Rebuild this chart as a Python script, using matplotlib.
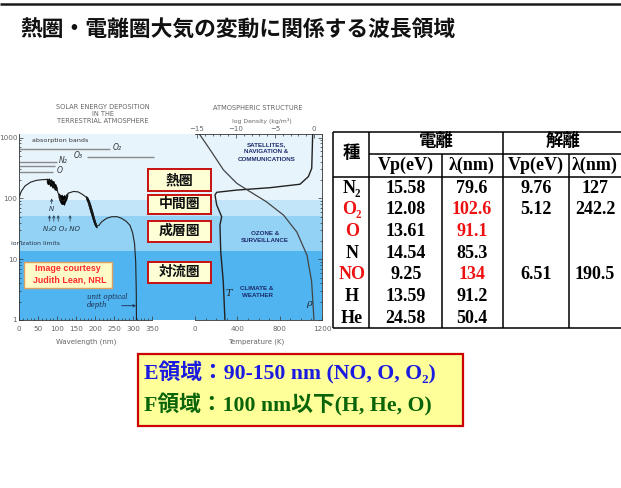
import matplotlib
matplotlib.use('Agg')
import matplotlib.pyplot as plt
from matplotlib.patches import Rectangle
from matplotlib.ticker import MultipleLocator, NullFormatter

W, H = 621, 488

# ---------------- data ----------------
title = '熱圏・電離圏大気の変動に関係する波長領域'

# solar energy deposition: altitude of unit optical depth vs wavelength
wl_nm = [0, 5, 15, 30, 45, 60, 72, 76, 82, 88, 94, 99, 103, 110, 118, 124, 129,
         143, 155, 165, 172, 178, 185, 192, 198, 204, 210, 217, 230, 244, 258,
         270, 282, 292, 299, 304, 307, 308.5, 309]
depth_alt = [105, 130, 160, 185, 198, 203, 205, 200, 185, 170, 150, 140, 120, 95,
             90, 105, 122, 130, 128, 118, 110, 102, 80, 60, 45, 35, 36, 41, 47,
             50, 50, 47, 42, 36, 27, 18, 9, 3, 1]
# dense (black) structure of the deposition curve
blob1_nm = [72, 75, 78, 81, 84, 87, 90, 93, 96, 99]
blob1_hi = [214, 205, 215, 200, 208, 190, 195, 175, 170, 150]
blob1_lo = [185, 170, 178, 160, 165, 150, 152, 140, 138, 135]
blob2_nm = [103, 106, 109, 112, 115, 118, 121, 124, 127]
blob2_hi = [122, 118, 112, 116, 108, 114, 110, 118, 122]
blob2_lo = [105, 92, 84, 80, 82, 78, 88, 95, 110]
band3_nm = [176, 180, 184, 188, 192, 196, 200, 204]
band3_hi = [110, 104, 92, 78, 64, 52, 42, 36]
band3_lo = [98, 86, 70, 58, 48, 40, 35, 33]

# absorption bands
absorb_labels = ['O₂', 'O₃', 'N₂', '', 'O']
absorb_start = [0, 179, 0, 0, 0]
absorb_end = [239, 354, 99, 95, 90]
absorb_level = [642, 485, 401, 341, 269]

# atmospheric structure
temp_K = [283, 267, 243, 236, 252, 205, 189, 205, 394, 709, 992, 1071, 1103, 1112]
temp_alt = [1, 4.3, 13.3, 36.5, 50, 78, 114, 126, 137, 150, 171, 228, 313, 1146]
logrho = [-14.7, -13.3, -11.6, -9.9, -8.2, -6.1, -3.9, -2.2, -0.9, -0.3, 0.0]
rho_alt = [1146, 625, 293, 177, 129, 88, 53, 28, 11.7, 4.3, 1]

band_edges = [1, 13.6, 51.5, 94, 1146]
band_colors = ['#4fb4ef', '#94d2f5', '#c3e5f9', '#e7f4fc']

region_labels = ['熱圏', '中間圏', '成層圏', '対流圏']

# table
species = ['N₂', 'O₂', 'O', 'N', 'NO', 'H', 'He']
species_red = [False, True, True, False, True, False, False]
ion_vp = [15.58, 12.08, 13.61, 14.54, 9.25, 13.59, 24.58]
ion_lam = [79.6, 102.6, 91.1, 85.3, 134, 91.2, 50.4]
ion_lam_red = [False, True, True, False, True, False, False]
dis_vp = [9.76, 5.12, None, None, 6.51, None, None]
dis_lam = [127, 242.2, None, None, 190.5, None, None]
col_headers = ['Vp(eV)', 'λ(nm)', 'Vp(eV)', 'λ(nm)']
group_headers = ['電離', '解離']

box_lines = ['E領域：90-150 nm (NO, O, O₂)', 'F領域：100 nm以下(H, He, O)']
box_colors = ['#1a1ae0', '#0a650a']

# ---------------- figure ----------------
def fr(x0, y0, x1, y1):
    return [x0 / W, 1 - y1 / H, (x1 - x0) / W, (y1 - y0) / H]

fig = plt.figure(figsize=(W / 100, H / 100), dpi=100)
fig.patch.set_facecolor('white')

YMIN, YMAX = 1, 1146
TICKC = '#333333'
LABC = '#666666'

# background bands
bg = fig.add_axes(fr(19.3, 134, 322, 320))
bg.set_yscale('log')
bg.set_ylim(YMIN, YMAX)
bg.set_xlim(0, 1)
for lo, hi, c in zip(band_edges[:-1], band_edges[1:], band_colors):
    bg.axhspan(lo, hi, color=c, lw=0)
bg.axis('off')

# left panel
axL = fig.add_axes(fr(19.3, 134, 152, 320))
axL.patch.set_alpha(0)
axL.set_xlim(0, 350)
axL.set_yscale('log')
axL.set_ylim(YMIN, YMAX)
for s in ['top', 'right']:
    axL.spines[s].set_visible(False)
for s in ['left', 'bottom']:
    axL.spines[s].set_linewidth(0.6)
    axL.spines[s].set_color(TICKC)
axL.set_xticks(range(0, 351, 50))
axL.xaxis.set_minor_locator(MultipleLocator(10))
axL.set_yticks([1, 10, 100, 1000], labels=['1', '10', '100', '1000'])
axL.yaxis.set_minor_formatter(NullFormatter())
axL.tick_params(which='both', direction='in', color=TICKC, labelcolor=LABC,
                labelsize=5.2, width=0.5)
axL.tick_params(which='major', length=3)
axL.tick_params(which='minor', length=1.5)
axL.tick_params(axis='x', pad=4.5)
axL.tick_params(axis='y', pad=1.5)

axL.plot(wl_nm, depth_alt, color='#222222', lw=0.8)
axL.fill_between(blob1_nm, blob1_lo, blob1_hi, color='black', lw=0.4)
axL.fill_between(blob2_nm, blob2_lo, blob2_hi, color='black', lw=0.4)
axL.fill_between(band3_nm, band3_lo, band3_hi, color='black', lw=0.4)

axL.hlines(absorb_level, absorb_start, absorb_end, color='#8a8a8a', lw=1.0,
           clip_on=False)
lab_pos = [(258, 690), (156, 505), (116, 420), None, (107, 293)]
for lab, pos in zip(absorb_labels, lab_pos):
    if lab and pos:
        axL.text(pos[0], pos[1], lab, fontsize=5.5, style='italic',
                 color='#333333', ha='center', va='center')
axL.text(33, 1e3 * 0.88, 'absorption bands', fontsize=4.6, color='#333333',
         ha='left', va='center')

# ionization limits from table
ion_arrow_species = ['N₂', 'O', 'O₂', 'NO']
for sp in ion_arrow_species:
    nm = ion_lam[species.index(sp)]
    axL.annotate('', xy=(nm, 53), xytext=(nm, 42),
                 arrowprops=dict(arrowstyle='->', lw=0.5, color='#223344',
                                 shrinkA=0, shrinkB=0, mutation_scale=4))
nmN = ion_lam[species.index('N')]
axL.annotate('', xy=(nmN, 100), xytext=(nmN, 82),
             arrowprops=dict(arrowstyle='->', lw=0.5, color='#223344',
                             shrinkA=0, shrinkB=0, mutation_scale=4))
axL.text(nmN, 66, 'N', fontsize=5, style='italic', color='#223344',
         ha='center', va='center')
axL.text(112, 31, 'N₂O O₂ NO', fontsize=5, style='italic', color='#223344',
         ha='center', va='center')
axL.text(42, 18.3, 'ionization limits', fontsize=4.4, color='#223344',
         ha='center', va='center')

# right panel
axR = fig.add_axes(fr(195, 134, 322, 320))
axR.patch.set_alpha(0)
axR.set_xlim(0, 1200)
axR.set_yscale('log')
axR.set_ylim(YMIN, YMAX)
axR.spines['left'].set_visible(False)
axR.spines['top'].set_visible(False)
for s in ['right', 'bottom']:
    axR.spines[s].set_linewidth(0.6)
    axR.spines[s].set_color(TICKC)
axR.set_xticks([0, 400, 800, 1200])
axR.xaxis.set_minor_locator(MultipleLocator(100))
axR.yaxis.set_minor_formatter(NullFormatter())
axR.tick_params(axis='y', which='both', left=False, right=True,
                labelleft=False, labelright=False)
axR.tick_params(which='both', direction='in', color=TICKC, labelcolor=LABC,
                labelsize=5.2, width=0.5)
axR.tick_params(which='major', length=3)
axR.tick_params(which='minor', length=1.5)
axR.tick_params(axis='x', pad=4.5)
axR.plot(temp_K, temp_alt, color='#222222', lw=1.0)

axT = axR.twiny()
axT.set_xlim(-15.26, 1.03)
axT.set_xticks([-15, -10, -5, 0])
axT.xaxis.set_minor_locator(MultipleLocator(1))
for s in ['left', 'right', 'bottom']:
    axT.spines[s].set_visible(False)
axT.spines['top'].set_linewidth(0.6)
axT.spines['top'].set_color(TICKC)
axT.tick_params(which='both', direction='in', color=TICKC, labelcolor=LABC,
                labelsize=5, width=0.5, pad=1.5)
axT.tick_params(which='major', length=3)
axT.tick_params(which='minor', length=1.5)
axT.plot(logrho, rho_alt, color='#444444', lw=0.9)

# ---------------- overlay (pixel coordinates) ----------------
ov = fig.add_axes([0, 0, 1, 1], zorder=10)
ov.set_xlim(0, W)
ov.set_ylim(H, 0)
ov.axis('off')
ov.patch.set_alpha(0)

ov.plot([0, W], [3.5, 3.5], color='#1a1a1a', lw=1.8, solid_capstyle='butt')
ov.text(20.6, 30, title, fontsize=15.7, weight='bold', color='#111111',
        family=['Noto Sans CJK JP'], ha='left', va='center')

# panel titles
for txt, y in zip(['SOLAR ENERGY DEPOSITION', 'IN THE', 'TERRESTRIAL ATMOSPHERE'],
                  [106.7, 113.5, 121.2]):
    ov.text(103, y, txt, fontsize=4.8, color=LABC, ha='center', va='center')
ov.text(258, 107.7, 'ATMOSPHERIC STRUCTURE', fontsize=4.8, color=LABC,
        ha='center', va='center')
ov.text(262, 120.5, 'log Density (kg/m³)', fontsize=4.4, color=LABC,
        ha='center', va='center')
ov.text(86, 341.7, 'Wavelength (nm)', fontsize=5, color=LABC, ha='center',
        va='center')
ov.text(256, 341.7, 'Temperature (K)', fontsize=5, color=LABC, ha='center',
        va='center')

navy = '#1c2a6b'
for txt, y in zip(['SATELLITES,', 'NAVIGATION &', 'COMMUNICATIONS'],
                  [144.5, 151.8, 159.2]):
    ov.text(266.5, y, txt, fontsize=4.5, weight='bold', color=navy,
            family=['Liberation Sans'], ha='center', va='center')
for txt, y in zip(['OZONE &', 'SURVEILLANCE'], [233.3, 240.7]):
    ov.text(265, y, txt, fontsize=4.5, weight='bold', color=navy,
            family=['Liberation Sans'], ha='center', va='center')
for txt, y in zip(['CLIMATE &', 'WEATHER'], [288.3, 295.3]):
    ov.text(257, y, txt, fontsize=4.5, weight='bold', color=navy,
            family=['Liberation Sans'], ha='center', va='center')
ov.text(228.5, 293.5, 'T', fontsize=7, style='italic', color='#222222',
        family=['DejaVu Serif'], ha='center', va='center')
ov.text(309.3, 303.3, 'ρ', fontsize=7, style='italic', color='#222222',
        family=['DejaVu Serif'], ha='center', va='center')

# image courtesy
ov.add_patch(Rectangle((24, 262.3), 87.7, 26, fc='#fffbc8', ec='#e0a060',
                       lw=1.0))
ov.text(68, 268.5, 'Image courtesy', fontsize=6.4, weight='bold',
        color='#ff2a2a', ha='center', va='center', family=['Liberation Sans'])
ov.text(70, 280, 'Judith Lean, NRL', fontsize=6.4, weight='bold',
        color='#ff2a2a', ha='center', va='center', family=['Liberation Sans'])

# unit optical depth
ov.text(107, 297, 'unit optical', fontsize=5, style='italic', color='#1c2a4b',
        family=['DejaVu Serif'], ha='center', va='center')
ov.text(97.6, 305, 'depth', fontsize=5, style='italic', color='#1c2a4b',
        family=['DejaVu Serif'], ha='center', va='center')
ov.annotate('', xy=(136, 305.7), xytext=(121.7, 305.7),
            arrowprops=dict(arrowstyle='->', lw=0.6, color='#1c2a4b',
                            shrinkA=0, shrinkB=0, mutation_scale=4))

# region boxes
box_y = [(169.3, 190.7), (195, 213.5), (220.7, 241.7), (261.7, 282.7)]
for lab, (y0, y1) in zip(region_labels, box_y):
    ov.add_patch(Rectangle((148.3, y0), 62.7, y1 - y0, fc='#ffffd6',
                           ec='#c81010', lw=1.4))
    ov.text(179.6, (y0 + y1) / 2, lab, fontsize=10, weight='bold',
            color='#111111', family=['Noto Sans CJK JP'], ha='center',
            va='center')

# ---------------- table ----------------
tl, tr = 333.3, 640
t_top, t_mid, t_head, t_bot = 132.3, 154.3, 176.7, 327.7
vx_sp, vx_a, vx_grp, vx_b = 369.3, 441.7, 502.7, 569.3
lk = dict(color='black', lw=1.1, solid_capstyle='butt')
ov.plot([tl, tr], [t_top, t_top], **lk)
ov.plot([tl, tr], [t_bot, t_bot], **lk)
ov.plot([tl, tr], [t_head, t_head], **lk)
ov.plot([vx_sp, tr], [t_mid, t_mid], **lk)
ov.plot([tl, tl], [t_top, t_bot], **lk)
ov.plot([vx_sp, vx_sp], [t_top, t_bot], **lk)
ov.plot([vx_grp, vx_grp], [t_top, t_bot], **lk)
ov.plot([vx_a, vx_a], [t_mid, t_bot], **lk)
ov.plot([vx_b, vx_b], [t_mid, t_bot], **lk)

serif = ['Liberation Serif', 'DejaVu Serif', 'Noto Sans CJK JP']
cjk = ['Noto Sans CJK JP']
red = '#ee1111'
col_x = [351.7, 405.7, 471.7, 535.7, 595]
row_y0, row_dy = 188.3, 21.67

ov.text(col_x[0], 153.3, '種', fontsize=12.5, weight='bold', family=cjk,
        ha='center', va='center')
for txt, x in zip(group_headers, [436, 563]):
    ov.text(x, 140.5, txt, fontsize=12.5, weight='bold', family=cjk,
            ha='center', va='center')
for txt, x in zip(col_headers, col_x[1:]):
    ov.text(x, 165.7, txt, fontsize=13, weight='bold', family=serif,
            ha='center', va='center')

def fmt(v):
    return '' if v is None else f'{v:g}'

for i in range(len(species)):
    y = row_y0 + i * row_dy
    ov.text(col_x[0], y, species[i], fontsize=13, weight='bold', family=serif,
            color=red if species_red[i] else 'black', ha='center', va='center')
    ov.text(col_x[1], y, fmt(ion_vp[i]), fontsize=13, weight='bold',
            family=serif, ha='center', va='center')
    ov.text(col_x[2], y, fmt(ion_lam[i]), fontsize=13, weight='bold',
            family=serif, color=red if ion_lam_red[i] else 'black',
            ha='center', va='center')
    ov.text(col_x[3], y, fmt(dis_vp[i]), fontsize=13, weight='bold',
            family=serif, ha='center', va='center')
    ov.text(col_x[4], y, fmt(dis_lam[i]), fontsize=13, weight='bold',
            family=serif, ha='center', va='center')

# ---------------- bottom box ----------------
ov.add_patch(Rectangle((138.3, 354.3), 324.4, 71.7, fc='#ffff99', ec='#cc0000',
                       lw=1.6))
for txt, c, y in zip(box_lines, box_colors, [373.3, 405]):
    ov.text(144, y, txt, fontsize=15.7, weight='bold', color=c, family=serif,
            ha='left', va='center')

fig.savefig('out.png', dpi=100)
